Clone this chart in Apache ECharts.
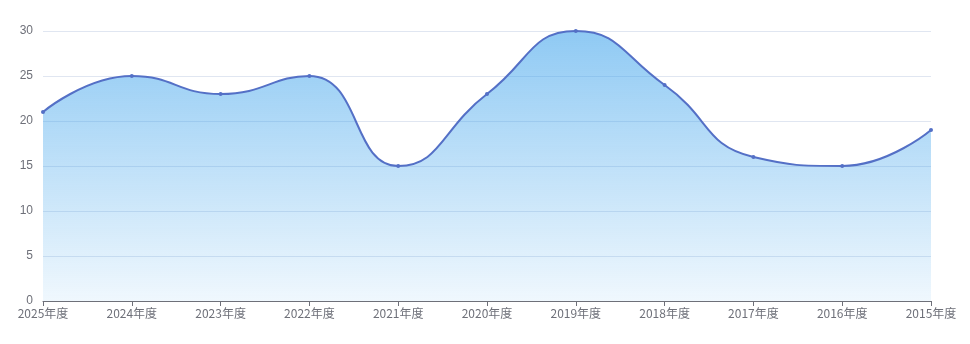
<!DOCTYPE html>
<html><head><meta charset="utf-8">
<script src="https://cdn.jsdelivr.net/npm/echarts@6/dist/echarts.min.js"></script>
<style>html,body{margin:0;padding:0;background:#fff}#c{width:970px;height:344px}</style>
</head><body><div id="c"></div>
<script>
const categories = ['2025年度','2024年度','2023年度','2022年度','2021年度','2020年度','2019年度','2018年度','2017年度','2016年度','2015年度'];
const values = [21, 25, 23, 25, 15, 23, 30, 24, 16, 15, 19];
const chart = echarts.init(document.getElementById('c'));
chart.setOption({
  animation: false,
  grid: {left: 43, right: 39, top: 31, bottom: 43},
  xAxis: {
    type: 'category', boundaryGap: false, data: categories,
    axisLine: {lineStyle: {color: '#6E7079'}},
    axisTick: {alignWithLabel: true},
    axisLabel: {color: '#6E7079', fontSize: 12, fontFamily: 'Noto Sans CJK SC', margin: 6}
  },
  yAxis: {
    type: 'value', min: 0, max: 30, interval: 5,
    axisLabel: {color: '#6E7079', fontSize: 12, margin: 10},
    splitLine: {lineStyle: {color: '#E0E6F1'}}
  },
  series: [{
    type: 'line', data: values, smooth: true,
    symbol: 'circle', symbolSize: 4,
    lineStyle: {color: '#5470c6', width: 2},
    itemStyle: {color: '#5470c6'},
    areaStyle: {
      opacity: 1,
      color: new echarts.graphic.LinearGradient(0, 0, 0, 1, [
        {offset: 0, color: 'rgba(58,161,235,0.57)'},
        {offset: 1, color: 'rgba(58,161,235,0.08)'}
      ])
    }
  }]
});
</script></body></html>
